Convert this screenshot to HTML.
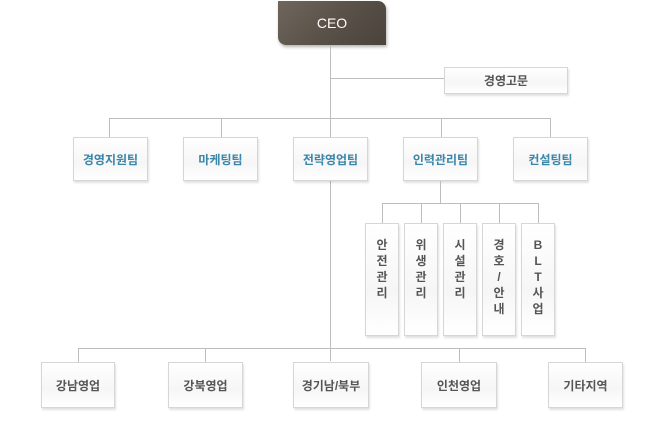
<!DOCTYPE html>
<html><head><meta charset="utf-8"><style>
body{margin:0;width:670px;height:426px;background:#fff;position:relative;overflow:hidden;font-family:"Liberation Sans","Noto Sans CJK KR","NanumGothic",sans-serif}
.l{position:absolute;background:#bdbdbd}
.b{position:absolute;box-sizing:border-box;border:1px solid #d6d6d6;background:linear-gradient(#fff,#f6f6f6 60%,#fff);box-shadow:1px 2px 2px rgba(0,0,0,.12);display:flex;align-items:center;justify-content:center;font-size:12px;font-weight:bold;color:#555}
.t{color:#3a86a8}
.v{align-items:flex-start;padding-top:13px;line-height:16px;text-align:center;writing-mode:horizontal-tb}
.ceo{position:absolute;left:278px;top:1px;width:108px;height:44px;border-radius:0 8px 0 8px;background:linear-gradient(135deg,#6f665c,#5a5249 50%,#4a433c);color:#fff;font-size:14px;display:flex;align-items:center;justify-content:center;box-shadow:1px 2px 3px rgba(0,0,0,.3)}
</style></head><body>
<div class="ceo">CEO</div>
<div class="l" style="left:330px;top:45px;width:1px;height:316px"></div>
<div class="l" style="left:330px;top:78px;width:114px;height:1px"></div>
<div class="b" style="left:444px;top:67px;width:124px;height:27px">경영고문</div>
<div class="l" style="left:109px;top:118px;width:442px;height:1px"></div>
<div class="l" style="left:109px;top:118px;width:1px;height:19px"></div>
<div class="l" style="left:221px;top:118px;width:1px;height:19px"></div>
<div class="l" style="left:441px;top:118px;width:1px;height:19px"></div>
<div class="l" style="left:550px;top:118px;width:1px;height:19px"></div>
<div class="b t" style="left:73px;top:137px;width:75px;height:44px">경영지원팀</div>
<div class="b t" style="left:183px;top:137px;width:75px;height:44px">마케팅팀</div>
<div class="b t" style="left:293px;top:137px;width:75px;height:44px">전략영업팀</div>
<div class="b t" style="left:403px;top:137px;width:75px;height:44px">인력관리팀</div>
<div class="b t" style="left:513px;top:137px;width:75px;height:44px">컨설팅팀</div>
<div class="l" style="left:440px;top:181px;width:1px;height:22px"></div>
<div class="l" style="left:382px;top:203px;width:157px;height:1px"></div>
<div class="l" style="left:382px;top:203px;width:1px;height:20px"></div>
<div class="l" style="left:421px;top:203px;width:1px;height:20px"></div>
<div class="l" style="left:460px;top:203px;width:1px;height:20px"></div>
<div class="l" style="left:499px;top:203px;width:1px;height:20px"></div>
<div class="l" style="left:538px;top:203px;width:1px;height:20px"></div>
<div class="b v" style="left:365px;top:223px;width:34px;height:113px">안<br>전<br>관<br>리</div>
<div class="b v" style="left:404px;top:223px;width:34px;height:113px">위<br>생<br>관<br>리</div>
<div class="b v" style="left:443px;top:223px;width:34px;height:113px">시<br>설<br>관<br>리</div>
<div class="b v" style="left:482px;top:223px;width:34px;height:113px">경<br>호<br>/<br>안<br>내</div>
<div class="b v" style="left:521px;top:223px;width:34px;height:113px">B<br>L<br>T<br>사<br>업</div>
<div class="l" style="left:78px;top:348px;width:508px;height:1px"></div>
<div class="l" style="left:78px;top:348px;width:1px;height:14px"></div>
<div class="l" style="left:205px;top:348px;width:1px;height:14px"></div>
<div class="l" style="left:459px;top:348px;width:1px;height:14px"></div>
<div class="l" style="left:585px;top:348px;width:1px;height:14px"></div>
<div class="b" style="left:41px;top:362px;width:74px;height:46px">강남영업</div>
<div class="b" style="left:168px;top:362px;width:75px;height:46px">강북영업</div>
<div class="b" style="left:293px;top:362px;width:76px;height:46px">경기남/북부</div>
<div class="b" style="left:421px;top:362px;width:76px;height:46px">인천영업</div>
<div class="b" style="left:548px;top:362px;width:75px;height:46px">기타지역</div>
</body></html>
